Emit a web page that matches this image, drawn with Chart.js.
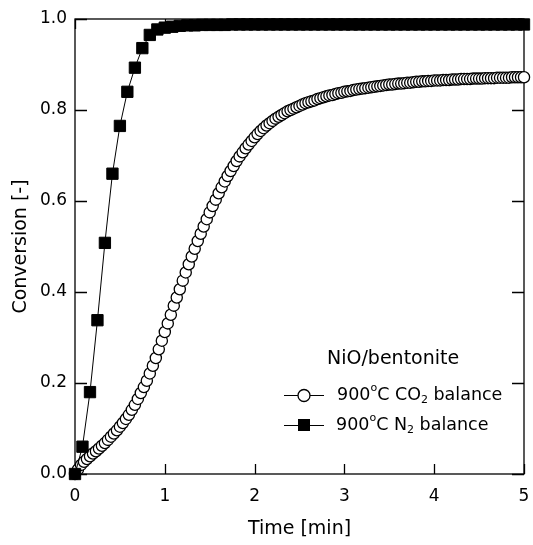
<!DOCTYPE html>
<html>
<head>
<meta charset="utf-8">
<script src="https://cdn.jsdelivr.net/npm/chart.js@4.4.1/dist/chart.umd.min.js"></script>
<style>
  html, body { margin: 0; padding: 0; background: #fff; }
  #wrap { width: 533px; height: 545px; }
</style>
</head>
<body>
<div id="wrap"><canvas id="convChart" width="533" height="545"></canvas></div>
<script>
// time axis [min] and conversion [-]
const co2Time = [
  0, 0.033, 0.067, 0.1, 0.133, 0.167, 0.2, 0.233, 0.267, 0.3,
  0.333, 0.367, 0.4, 0.433, 0.467, 0.5, 0.533, 0.567, 0.6, 0.633,
  0.667, 0.7, 0.733, 0.767, 0.8, 0.833, 0.867, 0.9, 0.933, 0.967,
  1.0, 1.033, 1.067, 1.1, 1.133, 1.167, 1.2, 1.233, 1.267, 1.3,
  1.333, 1.367, 1.4, 1.433, 1.467, 1.5, 1.533, 1.567, 1.6, 1.633,
  1.667, 1.7, 1.733, 1.767, 1.8, 1.833, 1.867, 1.9, 1.933, 1.967,
  2.0, 2.033, 2.067, 2.1, 2.133, 2.167, 2.2, 2.233, 2.267, 2.3,
  2.333, 2.367, 2.4, 2.433, 2.467, 2.5, 2.533, 2.567, 2.6, 2.633,
  2.667, 2.7, 2.733, 2.767, 2.8, 2.833, 2.867, 2.9, 2.933, 2.967,
  3.0, 3.033, 3.067, 3.1, 3.133, 3.167, 3.2, 3.233, 3.267, 3.3,
  3.333, 3.367, 3.4, 3.433, 3.467, 3.5, 3.533, 3.567, 3.6, 3.633,
  3.667, 3.7, 3.733, 3.767, 3.8, 3.833, 3.867, 3.9, 3.933, 3.967,
  4.0, 4.033, 4.067, 4.1, 4.133, 4.167, 4.2, 4.233, 4.267, 4.3,
  4.333, 4.367, 4.4, 4.433, 4.467, 4.5, 4.533, 4.567, 4.6, 4.633,
  4.667, 4.7, 4.733, 4.767, 4.8, 4.833, 4.867, 4.9, 4.933, 4.967,
  5.0
];
const co2Conv = [
  0.000, 0.010, 0.020, 0.027, 0.033, 0.039, 0.045, 0.050, 0.056, 0.062,
  0.068, 0.075, 0.082, 0.089, 0.096, 0.104, 0.112, 0.121, 0.130, 0.141,
  0.152, 0.165, 0.178, 0.191, 0.205, 0.221, 0.238, 0.255, 0.274, 0.293,
  0.312, 0.331, 0.350, 0.370, 0.388, 0.406, 0.425, 0.443, 0.461, 0.478,
  0.495, 0.512, 0.528, 0.544, 0.560, 0.575, 0.589, 0.603, 0.617, 0.630,
  0.643, 0.655, 0.666, 0.677, 0.688, 0.698, 0.707, 0.716, 0.724, 0.732,
  0.740, 0.747, 0.754, 0.760, 0.766, 0.771, 0.776, 0.781, 0.785, 0.789,
  0.793, 0.797, 0.800, 0.803, 0.806, 0.809, 0.812, 0.815, 0.817, 0.819,
  0.821, 0.824, 0.826, 0.828, 0.830, 0.832, 0.833, 0.835, 0.837, 0.838,
  0.840, 0.841, 0.842, 0.844, 0.845, 0.846, 0.847, 0.848, 0.849, 0.850,
  0.851, 0.852, 0.853, 0.854, 0.855, 0.856, 0.856, 0.857, 0.858, 0.858,
  0.859, 0.860, 0.860, 0.861, 0.862, 0.862, 0.863, 0.863, 0.864, 0.864,
  0.865, 0.865, 0.865, 0.866, 0.866, 0.866, 0.867, 0.867, 0.867, 0.868,
  0.868, 0.868, 0.868, 0.869, 0.869, 0.869, 0.869, 0.870, 0.870, 0.870,
  0.870, 0.871, 0.871, 0.871, 0.871, 0.871, 0.872, 0.872, 0.872, 0.872,
  0.872
];

const n2Time = [
  0, 0.083, 0.167, 0.25, 0.333, 0.417, 0.5, 0.583, 0.667, 0.75,
  0.833, 0.917, 1.0, 1.083, 1.167, 1.25, 1.333, 1.417, 1.5, 1.583,
  1.667, 1.75, 1.833, 1.917, 2.0, 2.083, 2.167, 2.25, 2.333, 2.417,
  2.5, 2.583, 2.667, 2.75, 2.833, 2.917, 3.0, 3.083, 3.167, 3.25,
  3.333, 3.417, 3.5, 3.583, 3.667, 3.75, 3.833, 3.917, 4.0, 4.083,
  4.167, 4.25, 4.333, 4.417, 4.5, 4.583, 4.667, 4.75, 4.833, 4.917,
  5.0
];
const n2Conv = [
  0.000, 0.060, 0.180, 0.338, 0.508, 0.660, 0.765, 0.840, 0.893, 0.936,
  0.965, 0.977, 0.981, 0.983, 0.985, 0.986, 0.986, 0.987, 0.987, 0.987,
  0.987, 0.988, 0.988, 0.988, 0.988, 0.988, 0.988, 0.988, 0.988, 0.988,
  0.988, 0.988, 0.988, 0.988, 0.988, 0.988, 0.988, 0.988, 0.988, 0.988,
  0.988, 0.988, 0.988, 0.988, 0.988, 0.988, 0.988, 0.988, 0.988, 0.988,
  0.988, 0.988, 0.988, 0.988, 0.988, 0.988, 0.988, 0.988, 0.988, 0.988,
  0.988
];

const xTicks = [0, 1, 2, 3, 4, 5];
const yTicks = [0, 0.2, 0.4, 0.6, 0.8, 1.0];

const legendTitle = "NiO/bentonite";
// [before sup, sup, between, sub, after]
const legendCO2 = ["900", "o", "C CO", "2", " balance"];
const legendN2 = ["900", "o", "C N", "2", " balance"];

const FONT = "'DejaVu Sans', sans-serif";

function toPoints(xs, ys) {
  return xs.map(function (x, i) { return { x: x, y: ys[i] }; });
}

// frame + inward ticks on all four sides
const frameTicks = {
  id: 'frameTicks',
  beforeDatasetsDraw(chart) {
    const ctx = chart.ctx;
    const a = chart.chartArea;
    const xs = chart.scales.x, ys = chart.scales.y;
    ctx.save();
    ctx.strokeStyle = '#000';
    ctx.lineWidth = 1.3;
    ctx.strokeRect(a.left, a.top, a.right - a.left, a.bottom - a.top);
    ctx.beginPath();
    xTicks.forEach(function (t) {
      const px = Math.round(xs.getPixelForValue(t)) + 0.5;
      ctx.moveTo(px, a.bottom); ctx.lineTo(px, a.bottom - 10);
      ctx.moveTo(px, a.top); ctx.lineTo(px, a.top + 10);
    });
    yTicks.forEach(function (t) {
      const py = Math.round(ys.getPixelForValue(t)) + 0.5;
      ctx.moveTo(a.left, py); ctx.lineTo(a.left + 12, py);
      ctx.moveTo(a.right, py); ctx.lineTo(a.right - 12, py);
    });
    ctx.stroke();
    ctx.restore();
  }
};

function richText(ctx, x, y, parts) {
  const big = "17.5px " + FONT, small = "11px " + FONT;
  ctx.textBaseline = 'middle';
  ctx.textAlign = 'left';
  const styles = [[big, 0], [small, -7], [big, 0], [small, 5], [big, 0]];
  parts.forEach(function (p, i) {
    ctx.font = styles[i][0];
    ctx.fillText(p, x, y + styles[i][1]);
    x += ctx.measureText(p).width;
  });
}

const legendBox = {
  id: 'legendBox',
  afterDraw(chart) {
    const ctx = chart.ctx;
    ctx.save();
    ctx.fillStyle = '#000';
    ctx.strokeStyle = '#000';
    ctx.font = "19px " + FONT;
    ctx.textBaseline = 'middle';
    ctx.textAlign = 'left';
    ctx.fillText(legendTitle, 327, 359);

    // CO2 entry
    ctx.lineWidth = 1;
    ctx.beginPath(); ctx.moveTo(284, 395.5); ctx.lineTo(324, 395.5); ctx.stroke();
    ctx.beginPath(); ctx.arc(304, 395.5, 6, 0, Math.PI * 2);
    ctx.fillStyle = '#fff'; ctx.fill();
    ctx.lineWidth = 1.3; ctx.stroke();
    ctx.fillStyle = '#000';
    richText(ctx, 337, 395, legendCO2);

    // N2 entry
    ctx.lineWidth = 1;
    ctx.beginPath(); ctx.moveTo(284, 425.5); ctx.lineTo(324, 425.5); ctx.stroke();
    ctx.fillRect(298, 419, 12, 12);
    richText(ctx, 336, 425, legendN2);
    ctx.restore();
  }
};

const ctxC = document.getElementById("convChart").getContext('2d');
new Chart(ctxC, {
  type: 'line',
  data: {
    datasets: [{
      label: "900°C CO2 balance",
      data: toPoints(co2Time, co2Conv),
      borderColor: '#000',
      borderWidth: 1,
      pointStyle: 'circle',
      pointRadius: 5.6,
      pointBorderWidth: 1.3,
      pointBackgroundColor: '#fff',
      pointBorderColor: '#000',
      tension: 0,
      clip: false,
      order: 1
    }, {
      label: "900°C N2 balance",
      data: toPoints(n2Time, n2Conv),
      borderColor: '#000',
      borderWidth: 1,
      pointStyle: 'rect',
      pointRadius: 8,
      pointBorderWidth: 1,
      pointBackgroundColor: '#000',
      pointBorderColor: '#000',
      tension: 0,
      clip: false,
      order: 0
    }]
  },
  options: {
    responsive: false,
    animation: false,
    devicePixelRatio: 1,
    layout: { padding: { top: 19, right: 6, left: 0, bottom: 0 } },
    plugins: {
      legend: { display: false },
      tooltip: { enabled: false }
    },
    scales: {
      x: {
        type: 'linear',
        min: 0, max: 5,
        afterFit: function (s) { s.height = 71; s.paddingLeft = 0; s.paddingRight = 0; },
        afterBuildTicks: function (s) { s.ticks = xTicks.map(function (v) { return { value: v }; }); },
        grid: { display: false, drawTicks: false },
        border: { display: false },
        ticks: {
          color: '#000',
          font: { family: FONT, size: 17 },
          padding: 12,
          maxRotation: 0,
          callback: function (v) { return String(v); }
        },
        title: {
          display: true,
          text: 'Time [min]',
          color: '#000',
          font: { family: FONT, size: 19 },
          padding: { top: 0, bottom: 5 }
        }
      },
      y: {
        min: 0, max: 1,
        afterFit: function (s) { s.width = 75; },
        afterBuildTicks: function (s) { s.ticks = yTicks.map(function (v) { return { value: v }; }); },
        grid: { display: false, drawTicks: false },
        border: { display: false },
        ticks: {
          color: '#000',
          font: { family: FONT, size: 17 },
          padding: 8,
          callback: function (v) { return Number(v).toFixed(1); }
        },
        title: {
          display: true,
          text: 'Conversion [-]',
          color: '#000',
          font: { family: FONT, size: 19 },
          padding: { top: 10, bottom: 0 }
        }
      }
    }
  },
  plugins: [frameTicks, legendBox]
});
</script>
</body>
</html>
